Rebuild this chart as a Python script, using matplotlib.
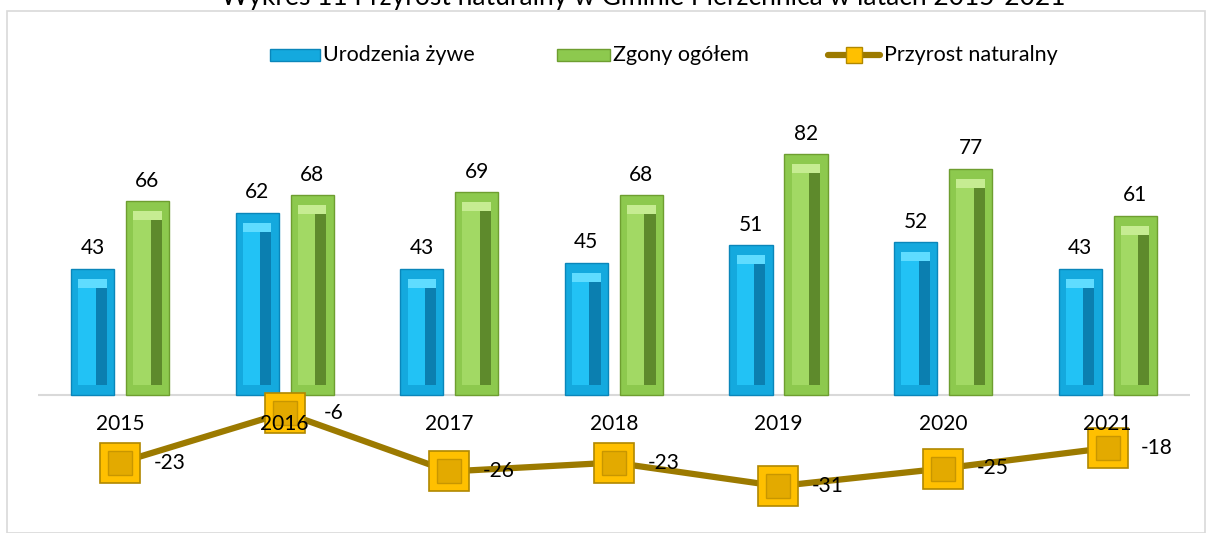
import matplotlib
matplotlib.use("Agg")
import matplotlib.pyplot as plt
from matplotlib.patches import Rectangle
from matplotlib.lines import Line2D
import numpy as np

years = ["2015", "2016", "2017", "2018", "2019", "2020", "2021"]
births = [43, 62, 43, 45, 51, 52, 43]
deaths = [66, 68, 69, 68, 82, 77, 61]
growth = [-23, -6, -26, -23, -31, -25, -18]
title = "Wykres 11 Przyrost naturalny w Gminie Pierzchnica w latach 2015-2021"
labels = ["Urodzenia żywe", "Zgony ogółem", "Przyrost naturalny"]

plt.rcParams['font.family'] = ['Lato', 'DejaVu Sans']

W, H = 1206, 533
fig = plt.figure(figsize=(W / 100, H / 100), dpi=100)
x0, x1 = 37.7, 1190
ax = fig.add_axes([x0 / W, 0, (x1 - x0) / W, 1])
ax.set_xlim(-0.5, 6.5)
ppu = 2.94
zero_px = 395
ax.set_ylim(-(H - zero_px) / ppu, zero_px / ppu)
ax.axis('off')

x = np.arange(len(years))
bw = 0.262
off = 0.167
FS = 15

def bevel_bars(xs, vals, main, light, dark, top, edge):
    inner = [v - 7 for v in vals]
    ax.bar(xs, vals, bw, color=main, edgecolor=edge, linewidth=1.0, zorder=2)
    ax.bar(xs, inner, bw * 0.66, bottom=3.5, color=light, edgecolor='none', zorder=3)
    ax.bar(xs + bw * 0.20, inner, bw * 0.26, bottom=3.5, color=dark,
           edgecolor='none', zorder=3)
    ax.bar(xs, [3.0] * len(vals), bw * 0.66, bottom=[v - 6.5 for v in vals],
           color=top, edgecolor='none', zorder=3)

bevel_bars(x - off, births, '#14A9DE', '#22C2F5', '#0B7FB0', '#5FDCFF', '#0A86BA')
bevel_bars(x + off, deaths, '#8DC94E', '#A2D964', '#5E8A2C', '#C6EC92', '#6E9E30')

ax.axhline(0, color='#D9D9D9', lw=1.5, zorder=1)

for xi, v in zip(x - off, births):
    ax.text(xi, v + 3.5, str(v), ha='center', va='bottom', fontsize=FS, color='#000000', zorder=6)
for xi, v in zip(x + off, deaths):
    ax.text(xi, v + 3.5, str(v), ha='center', va='bottom', fontsize=FS, color='#000000', zorder=6)

# line series
ax.plot(x, growth, color='#9C7A00', lw=4.5, zorder=4, solid_capstyle='round')
ax.plot(x, growth, ls='none', marker='s', markersize=29, markerfacecolor='#FFC000',
        markeredgecolor='#B08800', markeredgewidth=1.2, zorder=5)
ax.plot(x, growth, ls='none', marker='s', markersize=17, markerfacecolor='#E3AA00',
        markeredgecolor='#C89600', markeredgewidth=1.0, zorder=5)
for xi, v in zip(x, growth):
    ax.text(xi + 0.30, v, str(v), ha='center', va='center', fontsize=FS, color='#000000', zorder=6)

for xi, y in zip(x, years):
    ax.text(xi, -10, y, ha='center', va='center', fontsize=FS, color='#000000', zorder=7)

# border
fig.patches.append(Rectangle((7 / W, 0), (W - 8) / W, (H - 11) / H, transform=fig.transFigure,
                             fill=False, edgecolor='#D9D9D9', lw=1.2))

# title (partially cut, as in the reference)
fig.text(643 / W, (H - 5) / H, title, ha='center', va='baseline', fontsize=19, color='#000000')

# legend drawn in figure pixel coordinates
def fx(px):
    return px / W

def fy(py):
    return (H - py) / H

leg_y = 55
fig.patches.append(Rectangle((fx(270), fy(61)), 50 / W, 12 / H, transform=fig.transFigure,
                             facecolor='#14A9DE', edgecolor='#0A86BA', lw=1.0))
fig.patches.append(Rectangle((fx(557), fy(61)), 53 / W, 12 / H, transform=fig.transFigure,
                             facecolor='#8DC94E', edgecolor='#6E9E30', lw=1.0))
fig.lines.append(Line2D([fx(828), fx(880)], [fy(leg_y), fy(leg_y)], transform=fig.transFigure,
                        color='#9C7A00', lw=4.5, solid_capstyle='round'))
fig.lines.append(Line2D([fx(854)], [fy(leg_y)], transform=fig.transFigure, ls='none',
                        marker='s', markersize=12, markerfacecolor='#FFC000',
                        markeredgecolor='#B08800', markeredgewidth=1.0))
for px, lab in zip([323, 613, 884], labels):
    fig.text(fx(px), fy(leg_y), lab, ha='left', va='center', fontsize=15.5, color='#000000')

fig.savefig('out.png', dpi=100)
